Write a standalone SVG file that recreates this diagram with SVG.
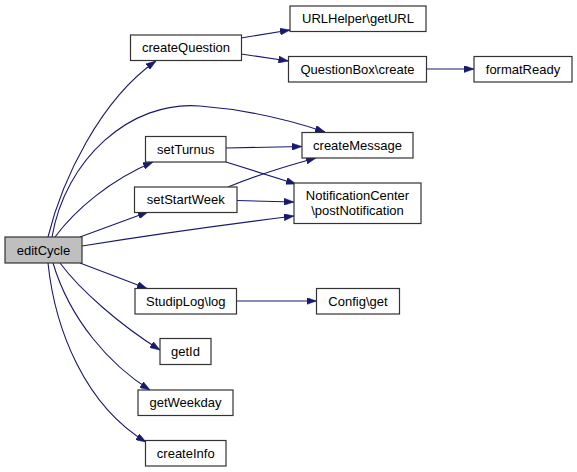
<svg xmlns="http://www.w3.org/2000/svg" width="577" height="472" viewBox="0 0 577 472">
<style>
.n rect{fill:#ffffff;stroke:#333333;stroke-width:1.2}
.n text{font-family:"Liberation Sans",Arial,sans-serif;font-size:13px;fill:#000000;text-anchor:middle}
#editCycle rect{fill:#bfbfbf}
.e path{fill:none;stroke:#191970;stroke-width:1.1}
</style>
<defs>
<marker id="ah" viewBox="0 0 10 7" refX="10" refY="3.5" markerWidth="10" markerHeight="7" markerUnits="userSpaceOnUse" orient="auto">
<path d="M0,0 L10,3.5 L0,7 z" fill="#191970" stroke="#191970" stroke-width="0.5"/>
</marker>
</defs>
<rect width="577" height="472" fill="#ffffff"/>
<g class="e" marker-end="url(#ah)">
<path d="M48,237 C62,180 100,100 156,61" marker-end="url(#ah)"/>
<path d="M52,237 C65,160 130,100 200,106 C250,110 290,120 325,132" marker-end="url(#ah)"/>
<path d="M55,237 C75,210 110,180 153,162" marker-end="url(#ah)"/>
<path d="M80,237 L148,212" marker-end="url(#ah)"/>
<path d="M82,246 C150,235 230,224 294,216" marker-end="url(#ah)"/>
<path d="M226,148 L302,146.5" marker-end="url(#ah)"/>
<path d="M226,162 L296,184" marker-end="url(#ah)"/>
<path d="M228,187 C255,176 290,165 316,158" marker-end="url(#ah)"/>
<path d="M237,200.5 L294,202" marker-end="url(#ah)"/>
<path d="M241,38 L290,30" marker-end="url(#ah)"/>
<path d="M241,54 L288.5,61" marker-end="url(#ah)"/>
<path d="M426.5,69 L474,69" marker-end="url(#ah)"/>
<path d="M80,263 L147,288.5" marker-end="url(#ah)"/>
<path d="M236.5,301 L316.5,301" marker-end="url(#ah)"/>
<path d="M60,263 C80,290 120,325 160,350" marker-end="url(#ah)"/>
<path d="M53,263 C70,320 110,365 150,390" marker-end="url(#ah)"/>
<path d="M48,263 C55,330 85,405 146,442" marker-end="url(#ah)"/>
</g>
<g class="n" id="editCycle"><rect x="5" y="237" width="77" height="26"/><text x="43.5" y="254.5">editCycle</text></g>
<g class="n" id="createQuestion"><rect x="130.5" y="35" width="111" height="25.5"/><text x="186" y="52">createQuestion</text></g>
<g class="n" id="setTurnus"><rect x="145.5" y="136.5" width="80.5" height="25.5"/><text x="185.75" y="153.5">setTurnus</text></g>
<g class="n" id="setStartWeek"><rect x="134.5" y="187" width="102.5" height="25.5"/><text x="185.75" y="204">setStartWeek</text></g>
<g class="n" id="URLHelper"><rect x="290" y="6" width="136" height="25.5"/><text x="358" y="23">URLHelper\getURL</text></g>
<g class="n" id="QuestionBox"><rect x="288.5" y="56.5" width="138" height="25.5"/><text x="357.5" y="73.5">QuestionBox\create</text></g>
<g class="n" id="formatReady"><rect x="474" y="56.5" width="98" height="25.5"/><text x="523" y="73.5">formatReady</text></g>
<g class="n" id="createMessage"><rect x="302" y="132.5" width="111" height="25.5"/><text x="357.5" y="149.5">createMessage</text></g>
<g class="n" id="NotificationCenter"><rect x="294" y="183" width="127" height="40.5"/><text x="357.5" y="200">NotificationCenter</text><text x="357.5" y="215">\postNotification</text></g>
<g class="n" id="StudipLog"><rect x="135" y="288.5" width="101.5" height="25.5"/><text x="185.75" y="305.5">StudipLog\log</text></g>
<g class="n" id="Config"><rect x="316.5" y="288.5" width="83" height="25.5"/><text x="358" y="305.5">Config\get</text></g>
<g class="n" id="getId"><rect x="160" y="338.5" width="51" height="26"/><text x="185.5" y="356">getId</text></g>
<g class="n" id="getWeekday"><rect x="138" y="390" width="95" height="25.5"/><text x="185.5" y="407">getWeekday</text></g>
<g class="n" id="createInfo"><rect x="145.5" y="440.5" width="80.5" height="25.5"/><text x="185.75" y="457.5">createInfo</text></g>
</svg>
